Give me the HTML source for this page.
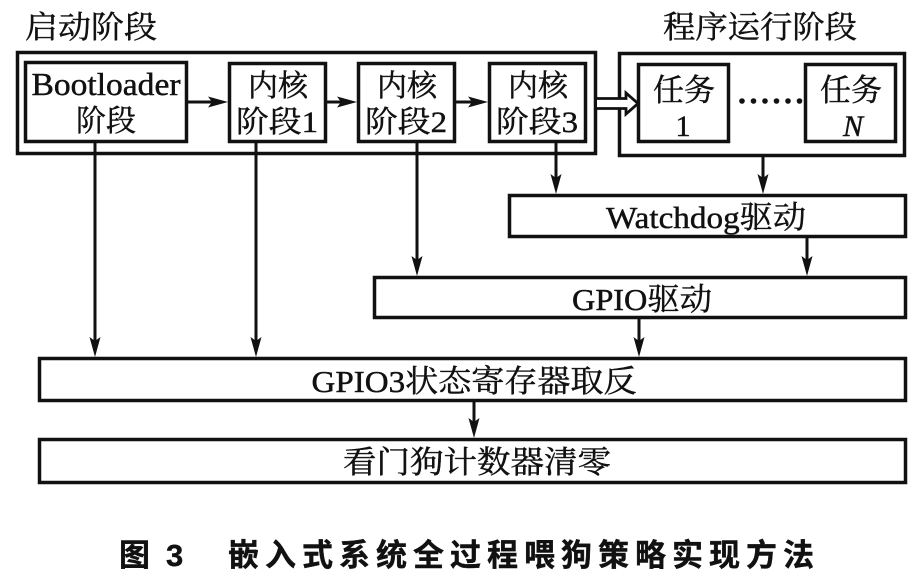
<!DOCTYPE html>
<html>
<head>
<meta charset="utf-8">
<style>
  html, body { margin: 0; padding: 0; background: #fff; }
  svg { display: block; }
  .t { font-family: "Liberation Serif", "Noto Serif CJK SC", serif; fill: #111; stroke: #111; stroke-width: 0.45px; }
  .cap { font-family: "Liberation Sans", "Noto Sans CJK SC", sans-serif; font-weight: bold; fill: #111; stroke: #111; stroke-width: 0.4px; }
</style>
</head>
<body>
<svg width="921" height="588" viewBox="0 0 921 588" xmlns="http://www.w3.org/2000/svg">
  <rect x="0" y="0" width="921" height="588" fill="#fff"/>

  <!-- titles -->
  <text class="t" x="25" y="38" font-size="31" textLength="132" lengthAdjust="spacingAndGlyphs">启动阶段</text>
  <text class="t" x="663" y="38" font-size="31" textLength="194" lengthAdjust="spacingAndGlyphs">程序运行阶段</text>

  <g fill="none" stroke="#111" stroke-width="3.5">
    <!-- outer boxes -->
    <rect x="17.5" y="52.5" width="578" height="101"/>
    <rect x="619.5" y="53.5" width="285" height="102"/>
    <!-- stage boxes -->
    <rect x="25.5" y="62.5" width="161" height="79"/>
    <rect x="229.5" y="63.5" width="96" height="78"/>
    <rect x="358.5" y="63.5" width="96" height="78"/>
    <rect x="489.5" y="63.5" width="96" height="78"/>
    <rect x="638.5" y="64.5" width="90" height="77"/>
    <rect x="805.5" y="64.5" width="90" height="77"/>
    <!-- lower boxes -->
    <rect x="509.5" y="195.5" width="396" height="41"/>
    <rect x="374.5" y="277.5" width="531" height="40"/>
    <rect x="39.5" y="358.5" width="866" height="42"/>
    <rect x="39.5" y="439.5" width="866" height="43"/>
  </g>

  <!-- connector lines -->
  <g stroke="#111" stroke-width="3" fill="none">
    <line x1="188" y1="102" x2="214" y2="102"/>
    <line x1="327" y1="102" x2="343" y2="102"/>
    <line x1="456" y1="102" x2="474" y2="102"/>

    <line x1="95" y1="142" x2="95" y2="343"/>
    <line x1="256" y1="143" x2="256" y2="343"/>
    <line x1="417" y1="143" x2="417" y2="262"/>
    <line x1="556" y1="143" x2="556" y2="180"/>
    <line x1="763" y1="157" x2="763" y2="180"/>
    <line x1="807" y1="238" x2="807" y2="262"/>
    <line x1="639" y1="319" x2="639" y2="343"/>
    <line x1="474" y1="402" x2="474" y2="424"/>
  </g>

  <!-- arrowheads -->
  <g fill="#111" stroke="none">
    <polygon points="208,96.5 228,102 208,107.5 212,102"/>
    <polygon points="337,96.5 357,102 337,107.5 341,102"/>
    <polygon points="468,96.5 488,102 468,107.5 472,102"/>

    <polygon points="89.5,337 95,357 100.5,337 95,341"/>
    <polygon points="250.5,337 256,357 261.5,337 256,341"/>
    <polygon points="411.5,256 417,276 422.5,256 417,260"/>
    <polygon points="550.5,174 556,194 561.5,174 556,178"/>
    <polygon points="757.5,174 763,194 768.5,174 763,178"/>
    <polygon points="801.5,256 807,276 812.5,256 807,260"/>
    <polygon points="633.5,337 639,357 644.5,337 639,341"/>
    <polygon points="468.5,418 474,438 479.5,418 474,422"/>
  </g>

  <!-- hollow double arrow -->
  <path d="M597,98.5 L626,98.5 L626,93 L638,103.5 L626,114 L626,108.5 L597,108.5" fill="#fff" stroke="#111" stroke-width="2.8" stroke-linejoin="miter"/>

  <!-- dots -->
  <g fill="#111">
    <circle cx="742" cy="101" r="2.8"/>
    <circle cx="753.5" cy="101" r="2.8"/>
    <circle cx="765" cy="101" r="2.8"/>
    <circle cx="776.5" cy="101" r="2.8"/>
    <circle cx="788" cy="101" r="2.8"/>
    <circle cx="799.5" cy="101" r="2.8"/>
  </g>

  <!-- box texts -->
  <text class="t" x="106" y="95" font-size="32" text-anchor="middle" textLength="149" lengthAdjust="spacingAndGlyphs">Bootloader</text>
  <text class="t" x="106" y="131" font-size="30" text-anchor="middle">阶段</text>

  <text class="t" x="278" y="96" font-size="30" text-anchor="middle" textLength="60" lengthAdjust="spacingAndGlyphs">内核</text>
  <text class="t" x="277" y="132" font-size="30" text-anchor="middle" textLength="82" lengthAdjust="spacingAndGlyphs">阶段1</text>
  <text class="t" x="407" y="96" font-size="30" text-anchor="middle" textLength="60" lengthAdjust="spacingAndGlyphs">内核</text>
  <text class="t" x="406" y="132" font-size="30" text-anchor="middle" textLength="82" lengthAdjust="spacingAndGlyphs">阶段2</text>
  <text class="t" x="538" y="96" font-size="30" text-anchor="middle" textLength="60" lengthAdjust="spacingAndGlyphs">内核</text>
  <text class="t" x="537" y="132" font-size="30" text-anchor="middle" textLength="82" lengthAdjust="spacingAndGlyphs">阶段3</text>

  <text class="t" x="684" y="101" font-size="31" text-anchor="middle" textLength="62" lengthAdjust="spacingAndGlyphs">任务</text>
  <text class="t" x="683" y="136" font-size="30" text-anchor="middle">1</text>
  <text class="t" x="851" y="101" font-size="31" text-anchor="middle" textLength="62" lengthAdjust="spacingAndGlyphs">任务</text>
  <text class="t" x="853" y="136" font-size="30" text-anchor="middle" font-style="italic">N</text>

  <text class="t" x="706" y="228" font-size="31" text-anchor="middle" textLength="200" lengthAdjust="spacingAndGlyphs">Watchdog驱动</text>
  <text class="t" x="642" y="310" font-size="31" text-anchor="middle" textLength="140" lengthAdjust="spacingAndGlyphs">GPIO驱动</text>
  <text class="t" x="474" y="392" font-size="31" text-anchor="middle" textLength="325" lengthAdjust="spacingAndGlyphs">GPIO3状态寄存器取反</text>
  <text class="t" x="477" y="473" font-size="31" text-anchor="middle" textLength="268" lengthAdjust="spacingAndGlyphs">看门狗计数器清零</text>

  <!-- caption -->
  <text class="cap" x="119" y="566" font-size="31">图</text>
  <text class="cap" x="166" y="566" font-size="31">3</text>
  <text class="cap" x="228" y="566" font-size="31" textLength="586" lengthAdjust="spacing">嵌入式系统全过程喂狗策略实现方法</text>
</svg>
</body>
</html>
